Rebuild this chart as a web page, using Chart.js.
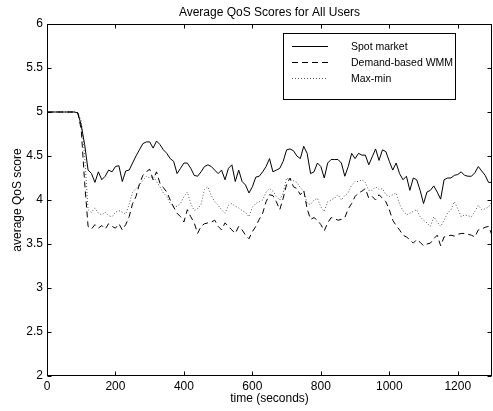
<!DOCTYPE html>
<html><head><meta charset="utf-8">
<script src="https://cdn.jsdelivr.net/npm/chart.js@4.4.0/dist/chart.umd.min.js"></script>
<style>html,body{margin:0;padding:0;background:#fff}#wrap{width:493px;height:411px}</style>
</head><body><div id="wrap"><canvas id="c" width="493" height="411"></canvas></div>
<script>
const times = [0,10,20,30,40,50,60,70,80,90,100,110,120,130,140,150,160,170,180,190,200,210,220,230,240,250,260,270,280,290,300,310,320,330,340,350,360,370,380,390,400,410,420,430,440,450,460,470,480,490,500,510,520,530,540,550,560,570,580,590,600,610,620,630,640,650,660,670,680,690,700,710,720,730,740,750,760,770,780,790,800,810,820,830,840,850,860,870,880,890,900,910,920,930,940,950,960,970,980,990,1000,1010,1020,1030,1040,1050,1060,1070,1080,1090,1100,1110,1120,1130,1140,1150,1160,1170,1180,1190,1200,1210,1220,1230,1240,1250,1260,1270,1280,1290,1300];
const spotMarket = [5.00,5.00,5.00,5.00,5.00,5.00,5.00,5.00,5.00,4.99,
4.85,4.63,4.34,4.30,4.20,4.32,4.23,4.27,4.34,4.32,
4.38,4.39,4.21,4.33,4.34,4.42,4.50,4.57,4.64,4.66,
4.66,4.59,4.67,4.63,4.57,4.53,4.47,4.44,4.30,4.36,
4.42,4.42,4.36,4.28,4.27,4.32,4.38,4.40,4.38,4.34,
4.30,4.34,4.23,4.36,4.40,4.21,4.34,4.21,4.17,4.08,
4.15,4.26,4.27,4.32,4.38,4.47,4.32,4.34,4.36,4.44,
4.57,4.58,4.56,4.50,4.47,4.61,4.53,4.30,4.32,4.42,
4.38,4.25,4.42,4.46,4.46,4.46,4.42,4.27,4.38,4.53,
4.47,4.53,4.51,4.51,4.40,4.49,4.58,4.45,4.57,4.55,
4.44,4.34,4.42,4.30,4.23,4.27,4.11,4.25,4.23,4.11,
3.96,4.09,4.11,4.16,4.09,4.01,4.23,4.25,4.25,4.28,
4.29,4.32,4.28,4.27,4.27,4.31,4.38,4.33,4.28,4.20,
4.20];
const demandWMM = [5.00,5.00,5.00,5.00,5.00,5.00,5.00,5.00,5.00,4.99,
4.80,4.20,3.70,3.67,3.72,3.68,3.71,3.67,3.73,3.70,
3.68,3.73,3.66,3.72,3.81,3.96,4.04,4.18,4.28,4.32,
4.35,4.23,4.32,4.19,4.14,4.09,4.00,3.92,3.85,3.81,
3.75,3.89,3.81,3.74,3.62,3.70,3.73,3.74,3.75,3.77,
3.70,3.66,3.74,3.70,3.66,3.62,3.70,3.66,3.60,3.56,
3.64,3.70,3.78,3.85,3.98,4.06,4.05,3.98,3.89,4.02,
4.18,4.25,4.15,4.13,4.06,4.11,3.90,3.78,3.80,3.77,
3.72,3.65,3.74,3.80,3.79,3.77,3.78,3.80,3.90,3.96,
4.04,4.08,4.10,4.13,4.02,4.04,4.00,4.06,4.02,3.98,
3.89,3.77,3.71,3.66,3.60,3.58,3.55,3.51,3.55,3.52,
3.48,3.50,3.51,3.56,3.60,3.48,3.58,3.59,3.60,3.59,
3.61,3.62,3.62,3.61,3.60,3.58,3.66,3.67,3.69,3.70,
3.60];
const maxMin = [5.00,5.00,5.00,5.00,5.00,5.00,5.00,5.00,5.00,4.99,
4.90,4.50,3.89,3.86,3.91,3.85,3.83,3.86,3.82,3.81,
3.86,3.88,3.86,3.84,3.95,4.09,4.13,4.17,4.22,4.27,
4.25,4.27,4.21,4.15,4.08,4.04,3.96,3.92,3.93,3.96,
4.04,4.09,3.96,3.88,3.90,3.95,4.12,4.15,4.05,3.98,
3.94,3.89,3.85,3.94,3.96,3.93,3.91,3.88,3.86,3.81,
3.92,3.96,3.98,4.00,4.09,4.13,4.10,4.04,4.00,4.08,
4.25,4.23,4.22,4.20,4.14,4.10,3.96,3.95,4.00,4.02,
3.92,3.87,3.98,4.00,4.02,4.06,4.00,4.05,4.08,4.17,
4.21,4.21,4.23,4.20,4.11,4.11,4.15,4.12,4.13,4.06,
4.04,4.06,4.08,3.95,3.88,3.83,3.85,3.87,3.89,3.81,
3.77,3.74,3.70,3.81,3.75,3.70,3.77,3.85,3.89,3.98,
3.90,3.81,3.83,3.82,3.81,3.87,3.94,3.89,3.90,3.92,
3.98];
const seriesNames = ['Spot market','Demand-based WMM','Max-min'];
const xTickValues = [0,200,400,600,800,1000,1200];
const yTickValues = [2,2.5,3,3.5,4,4.5,5,5.5,6];

const FONT = "'Liberation Sans', Arial, Helvetica, sans-serif";
const toXY = arr => arr.map((v,i)=>({x:times[i], y:v}));

const styles = [
  {color:'#000000', dash:[]},
  {color:'#000000', dash:[6,4]},
  {color:'#555555', dash:[1,2]}
];
const seriesData = [spotMarket, demandWMM, maxMin];

const frameAndTicks = {
  id:'frameAndTicks',
  afterDatasetsDraw(chart){
    const {ctx, chartArea:a, scales} = chart;
    const L=Math.round(a.left)+0.5, R=Math.round(a.right)-0.5, T=Math.round(a.top)+0.5, B=Math.round(a.bottom)-0.5;
    ctx.save();
    ctx.strokeStyle='#000'; ctx.lineWidth=1; ctx.setLineDash([]);
    ctx.strokeRect(L,T,R-L,B-T);
    const tl=4;
    ctx.beginPath();
    xTickValues.forEach(v=>{
      const px=Math.round(scales.x.getPixelForValue(v))+0.5;
      ctx.moveTo(px,B); ctx.lineTo(px,B-tl);
      ctx.moveTo(px,T); ctx.lineTo(px,T+tl);
    });
    yTickValues.forEach(v=>{
      const py=Math.round(scales.y.getPixelForValue(v))+0.5;
      ctx.moveTo(L,py); ctx.lineTo(L+tl,py);
      ctx.moveTo(R,py); ctx.lineTo(R-tl,py);
    });
    ctx.stroke();
    ctx.restore();
  },
  afterDraw(chart){
    const {ctx} = chart;
    ctx.save();
    const bx=283.5, by=33.5, bw=172, bh=66;
    ctx.fillStyle='#fff'; ctx.fillRect(bx,by,bw,bh);
    ctx.strokeStyle='#000'; ctx.lineWidth=1; ctx.setLineDash([]);
    ctx.strokeRect(bx,by,bw,bh);
    ctx.font='10.5px '+FONT; ctx.textBaseline='middle'; ctx.textAlign='left'; ctx.fillStyle='#000';
    const rows=[46.5,62.5,78.5];
    seriesNames.forEach((n,i)=>{
      ctx.beginPath();
      ctx.strokeStyle=styles[i].color; ctx.setLineDash(styles[i].dash);
      ctx.moveTo(292,rows[i]); ctx.lineTo(328,rows[i]); ctx.stroke();
      ctx.fillText(n,351,rows[i]+1);
    });
    ctx.restore();
  }
};

const plainLabel = v => String(v);

new Chart(document.getElementById('c'), {
  type:'line',
  data:{
    datasets: seriesData.map((d,i)=>({
      label: seriesNames[i],
      data: toXY(d),
      borderColor: styles[i].color,
      borderDash: styles[i].dash,
      borderWidth: 1,
      pointRadius: 0,
      tension: 0,
      fill: false
    }))
  },
  options:{
    responsive:false,
    animation:false,
    devicePixelRatio:1,
    layout:{padding:{left:0,right:1,top:0,bottom:0}},
    plugins:{
      legend:{display:false},
      tooltip:{enabled:false},
      title:{display:true, text:'Average QoS Scores for All Users', color:'#000',
        font:{family:FONT, size:12, weight:'normal', lineHeight:1.2},
        padding:{top:5,bottom:4.6}, fullSize:false}
    },
    scales:{
      x:{type:'linear', min:0, max:1300,
        grid:{display:false, drawTicks:false}, border:{display:false},
        afterBuildTicks(s){ s.ticks = xTickValues.map(v=>({value:v})); },
        afterFit(s){ s.height = 35; },
        ticks:{color:'#000', padding:3.5, maxRotation:0, autoSkip:false, font:{family:FONT,size:12}, callback:plainLabel},
        title:{display:true, text:'time (seconds)', color:'#000', font:{family:FONT,size:12,lineHeight:1.2}, padding:{top:0,bottom:4.8}}
      },
      y:{type:'linear', min:2, max:6,
        grid:{display:false, drawTicks:false}, border:{display:false},
        afterBuildTicks(s){ s.ticks = yTickValues.map(v=>({value:v})); },
        afterFit(s){ s.width = 47; },
        ticks:{color:'#000', padding:4, autoSkip:false, font:{family:FONT,size:12}, callback:plainLabel},
        title:{display:true, text:'average QoS score', color:'#000', font:{family:FONT,size:12,lineHeight:1.2}, padding:{top:10.8,bottom:0}}
      }
    }
  },
  plugins:[frameAndTicks]
});
</script></body></html>
